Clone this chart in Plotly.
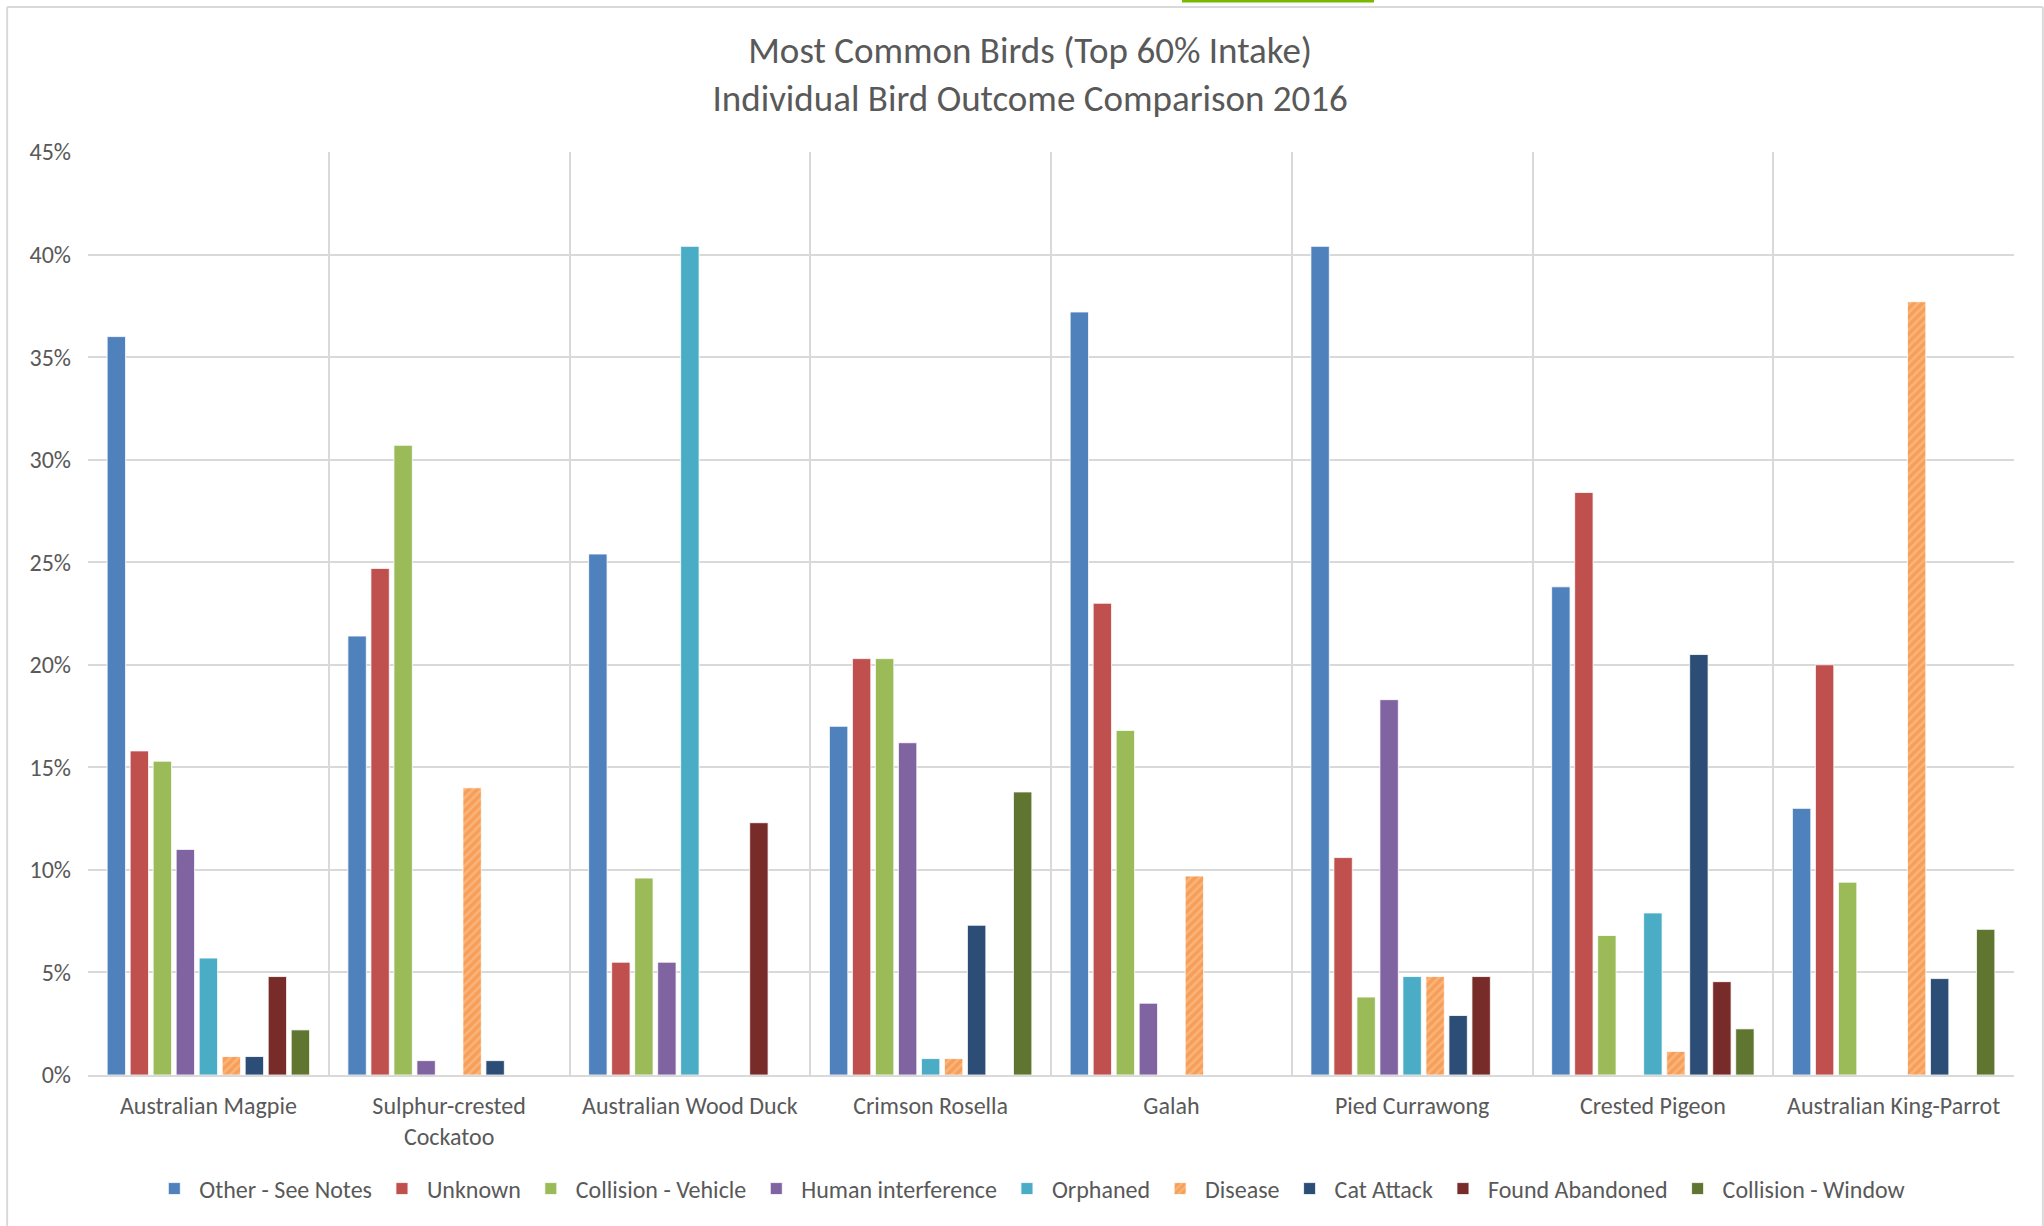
import plotly.graph_objects as go

birds = ["Australian Magpie", "Sulphur-crested Cockatoo", "Australian Wood Duck",
         "Crimson Rosella", "Galah", "Pied Currawong", "Crested Pigeon",
         "Australian King-Parrot"]
bird_labels = ["Australian Magpie", "Sulphur-crested<br>Cockatoo", "Australian Wood Duck",
               "Crimson Rosella", "Galah", "Pied Currawong", "Crested Pigeon",
               "Australian King-Parrot"]

other_see_notes = [36.0, 21.4, 25.4, 17.0, 37.2, 40.4, 23.8, 13.0]
unknown = [15.8, 24.7, 5.5, 20.3, 23.0, 10.6, 28.4, 20.0]
collision_vehicle = [15.3, 30.7, 9.6, 20.3, 16.8, 3.8, 6.8, 9.4]
human_interference = [11.0, 0.7, 5.5, 16.2, 3.5, 18.3, 0, 0]
orphaned = [5.7, 0, 40.4, 0.8, 0, 4.8, 7.9, 0]
disease = [0.9, 14.0, 0, 0.8, 9.7, 4.8, 1.15, 37.7]
cat_attack = [0.9, 0.7, 0, 7.3, 0, 2.9, 20.5, 4.7]
found_abandoned = [4.8, 0, 12.3, 0, 0, 4.8, 4.55, 0]
collision_window = [2.2, 0, 0, 13.8, 0, 0, 2.25, 7.1]

series_names = ["Other - See Notes", "Unknown", "Collision - Vehicle", "Human interference",
                "Orphaned", "Disease", "Cat Attack", "Found Abandoned", "Collision - Window"]
series_values = [other_see_notes, unknown, collision_vehicle, human_interference,
                 orphaned, disease, cat_attack, found_abandoned, collision_window]
colors = ["#4F81BD", "#C0504D", "#9BBB59", "#8064A2", "#4BACC6", "#F79646",
          "#2C4D75", "#772C2A", "#5F7530"]

y_ticks = [0, 5, 10, 15, 20, 25, 30, 35, 40, 45]
y_tick_labels = ["0%", "5%", "10%", "15%", "20%", "25%", "30%", "35%", "40%", "45%"]

FONT = "Carlito, Calibri, Lato, 'Liberation Sans', sans-serif"
TXT = "#595959"

fig = go.Figure()
for name, vals, col in zip(series_names, series_values, colors):
    marker = dict(color=col, line=dict(color="rgba(255,255,255,0.8)", width=1))
    if name == "Disease":
        marker = dict(color="#F7A560",
                      line=dict(color="rgba(255,255,255,0.8)", width=1),
                      pattern=dict(shape="/", fgcolor="#F58A32", bgcolor="#F9B57E",
                                   size=6, solidity=0.6))
    fig.add_trace(go.Bar(name=name, x=birds, y=vals, marker=marker))

fig.update_layout(
    width=2044, height=1226,
    barmode="group", bargap=0.14, bargroupgap=0.2,
    paper_bgcolor="white", plot_bgcolor="white",
    margin=dict(l=88, r=30, t=152, b=151, autoexpand=False),
    font=dict(family=FONT, color=TXT, size=24),
    title=dict(text="Most Common Birds (Top 60% Intake)<br>Individual Bird Outcome Comparison 2016",
               x=0.504, xanchor="center", y=0.949, yanchor="middle",
               font=dict(family=FONT, size=37, color=TXT)),
    xaxis=dict(type="category", tickmode="array", tickvals=birds, ticktext=bird_labels,
               tickson="boundaries", showgrid=True, gridcolor="#D9D9D9", gridwidth=1.5,
               ticks="", showline=True, linecolor="#D9D9D9", linewidth=2, automargin=False,
               tickfont=dict(size=24, color=TXT), ticklabelstandoff=8),
    yaxis=dict(range=[0, 45], tickmode="array", tickvals=y_ticks, ticktext=y_tick_labels,
               showgrid=True, gridcolor="#D9D9D9", gridwidth=1.5, zeroline=False,
               automargin=False, ticks="", tickfont=dict(size=24, color=TXT),
               ticklabelstandoff=16),
    legend=dict(orientation="h", x=0.489, xanchor="center", y=-0.1235, yanchor="middle",
                font=dict(size=24, color=TXT), traceorder="normal", itemwidth=40),
    shapes=[
        dict(type="line", xref="paper", yref="paper", x0=-0.0420, x1=1.0150,
             y0=1.1570, y1=1.1570, line=dict(color="#D9D9D9", width=2)),
        dict(type="line", xref="paper", yref="paper", x0=-0.0420, x1=-0.0420,
             y0=1.1570, y1=-0.17, line=dict(color="#D9D9D9", width=2)),
        dict(type="line", xref="paper", yref="paper", x0=1.0150, x1=1.0150,
             y0=1.1570, y1=-0.17, line=dict(color="#D9D9D9", width=2)),
        dict(type="line", xref="paper", yref="paper", x0=(1182 - 88) / 1926, x1=(1374 - 88) / 1926,
             y0=(1075 - 1) / 923, y1=(1075 - 1) / 923, line=dict(color="#76B900", width=3)),
    ],
)

fig.write_html("out.html", config={"displayModeBar": False},
               post_script="document.body.style.margin='0';")
